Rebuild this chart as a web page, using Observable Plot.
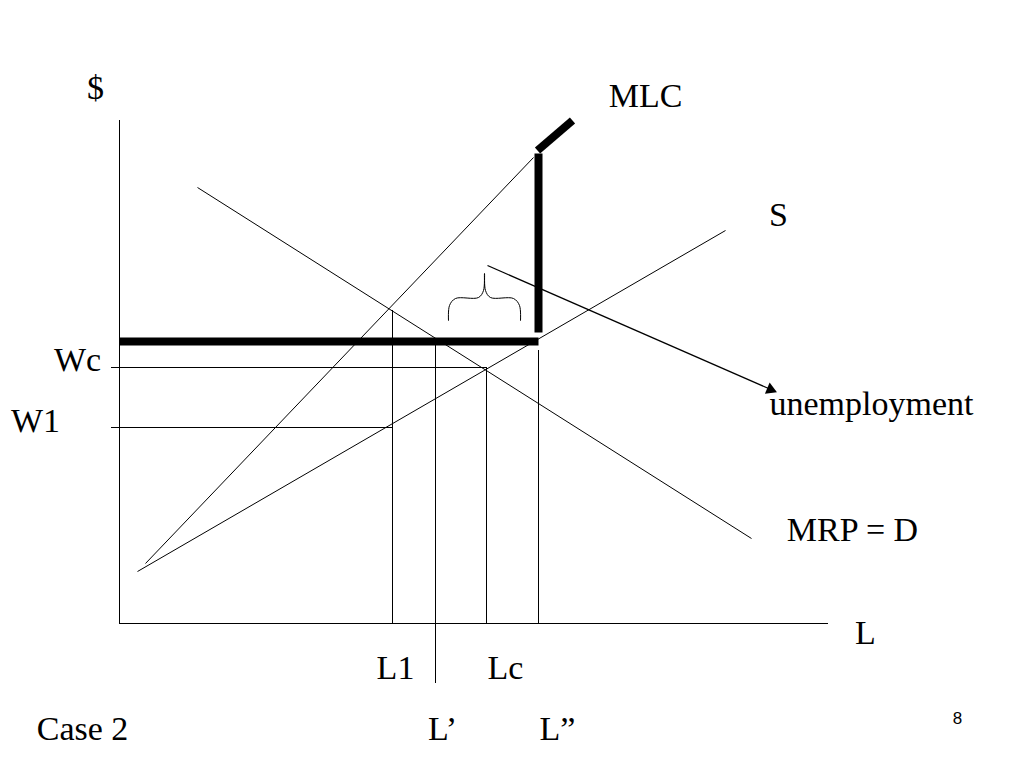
<!DOCTYPE html>
<html>
<head>
<meta charset="utf-8">
<script src="https://cdn.jsdelivr.net/npm/d3@7"></script>
<script src="https://cdn.jsdelivr.net/npm/@observablehq/plot@0.6"></script>
<style>
  html, body { margin: 0; padding: 0; background: #fff; }
  svg { display: block; }
</style>
</head>
<body>
<div id="chart"></div>
<script>
// Labour quantity (L) and wage ($) in diagram units; origin at the axes corner.
const axisLmax = 709, axisWmax = 503;

// Thin curves: [L1, W1, L2, W2]
const curveNames = ["MRP = D", "S", "MLC"];
const curveL1 = [78, 18, 26];
const curveW1 = [436, 52, 60];
const curveL2 = [632, 606, 414];
const curveW2 = [85, 393, 466];

// Thick MLC segments under the wage floor
const mlcL1 = [0, 419, 418];
const mlcW1 = [282, 291, 473];
const mlcL2 = [419, 419, 453];
const mlcW2 = [282, 470, 503];

// Wage guide lines
const wageNames = ["Wc", "W1"];
const wageLevels = [256, 196];
const wageLstart = [-8, -8];
const wageLend = [367, 273];

// Quantity guide lines
const qtyNames = ["L1", "L'", "Lc", "L''"];
const qtyLevels = [273, 316, 367, 419];
const qtyWstart = [0, -60, 0, 0];
const qtyWend = [313, 282, 256, 273];

// Unemployment arrow
const arrowL = [368, 656];
const arrowW = [358, 232];
const arrowHeadL = [651], arrowHeadW = [234];

// Brace over the unemployment gap
const braceL = [329, 330, 336, 359, 364, 365, 366, 371, 394, 400, 401];
const braceW = [303, 318, 325, 326, 333, 350, 333, 326, 325, 318, 303];

// Text labels
const labelText = ["$", "MLC", "S", "Wc", "W1", "unemployment", "MRP = D", "L", "L1", "Lc", "Case 2", "L\u2019", "L\u201D"];
const labelL = [-24, 526, 659, -42, -84, 752, 733, 746, 276, 386, -37, 323, 438];
const labelW = [535, 527, 408, 263, 202, 219, 93, -10, -45, -45, -106, -106, -106];

const pageNum = ["8"];
const pageL = [838];
const pageW = [-95];

const curves = curveNames.map((n, i) => ({n, x1: curveL1[i], y1: curveW1[i], x2: curveL2[i], y2: curveW2[i]}));
const mlc = mlcL1.map((v, i) => ({x1: v, y1: mlcW1[i], x2: mlcL2[i], y2: mlcW2[i]}));
const wages = wageNames.map((n, i) => ({n, y: wageLevels[i], x1: wageLstart[i], x2: wageLend[i]}));
const qtys = qtyNames.map((n, i) => ({n, x: qtyLevels[i], y1: qtyWstart[i], y2: qtyWend[i]}));
const brace = braceL.map((v, i) => ({x: v, y: braceW[i]}));
const labels = labelText.map((t, i) => ({t, x: labelL[i], y: labelW[i]}));
const pages = pageNum.map((t, i) => ({t, x: pageL[i], y: pageW[i]}));
const heads = arrowHeadL.map((v, i) => ({x: v, y: arrowHeadW[i]}));

const chart = Plot.plot({
  width: 1024,
  height: 768,
  margin: 0,
  x: {domain: [-119, 905], axis: null},
  y: {domain: [-145, 623], axis: null},
  style: {background: "#fff"},
  marks: [
    // axes
    Plot.ruleX([0], {y1: 0, y2: axisWmax, stroke: "#000", strokeWidth: 1}),
    Plot.ruleY([0], {x1: 0, x2: axisLmax, stroke: "#000", strokeWidth: 1}),
    // guides
    Plot.ruleY(wages, {y: "y", x1: "x1", x2: "x2", stroke: "#000", strokeWidth: 1}),
    Plot.ruleX(qtys, {x: "x", y1: "y1", y2: "y2", stroke: "#000", strokeWidth: 1}),
    // curves
    Plot.link(curves, {x1: "x1", y1: "y1", x2: "x2", y2: "y2", stroke: "#000", strokeWidth: 1}),
    // thick MLC
    Plot.link(mlc, {x1: "x1", y1: "y1", x2: "x2", y2: "y2", stroke: "#000", strokeWidth: 8, strokeLinecap: "butt"}),
    // brace
    Plot.line(brace, {x: "x", y: "y", stroke: "#000", strokeWidth: 1, curve: "catmull-rom"}),
    // arrow
    Plot.link([{x1: arrowL[0], y1: arrowW[0], x2: arrowL[1], y2: arrowW[1]}], {x1: "x1", y1: "y1", x2: "x2", y2: "y2", stroke: "#000", strokeWidth: 1.3}),
    Plot.dot(heads, {x: "x", y: "y", symbol: "triangle", r: 4.5, rotate: 113, fill: "#000", stroke: "none"}),
    // labels
    Plot.text(labels, {x: "x", y: "y", text: "t", fontFamily: "Liberation Serif", fontSize: 34, fill: "#000"}),
    Plot.text(pages, {x: "x", y: "y", text: "t", fontFamily: "Liberation Sans", fontSize: 17, fill: "#000"})
  ]
});
document.getElementById("chart").appendChild(chart);
</script>
</body>
</html>
